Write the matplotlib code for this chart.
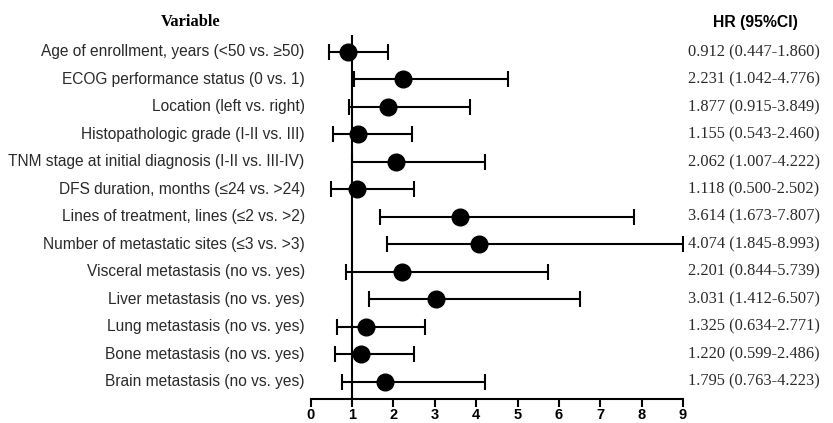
import matplotlib
matplotlib.use("Agg")
from matplotlib import pyplot as plt
import numpy as np

# Variables del modelo multivariado
variables = [
    "Age of enrollment, years (<50 vs. \u226550)",
    "ECOG performance status (0 vs. 1)",
    "Location (left vs. right)",
    "Histopathologic grade (I-II vs. III)",
    "TNM stage at initial diagnosis (I-II vs. III-IV)",
    "DFS duration, months (\u226424 vs. >24)",
    "Lines of treatment, lines (\u22642 vs. >2)",
    "Number of metastatic sites (\u22643 vs. >3)",
    "Visceral metastasis (no vs. yes)",
    "Liver metastasis (no vs. yes)",
    "Lung metastasis (no vs. yes)",
    "Bone metastasis (no vs. yes)",
    "Brain metastasis (no vs. yes)",
]
hr = [0.912, 2.231, 1.877, 1.155, 2.062, 1.118, 3.614, 4.074, 2.201, 3.031, 1.325, 1.220, 1.795]
ci_low = [0.447, 1.042, 0.915, 0.543, 1.007, 0.500, 1.673, 1.845, 0.844, 1.412, 0.634, 0.599, 0.763]
ci_high = [1.860, 4.776, 3.849, 2.460, 4.222, 2.502, 7.807, 8.993, 5.739, 6.507, 2.771, 2.486, 4.223]
x_ticks = [0, 1, 2, 3, 4, 5, 6, 7, 8, 9]

hr = np.array(hr)
err = np.vstack([hr - np.array(ci_low), np.array(ci_high) - hr])
y = np.arange(len(variables))

fig = plt.figure(figsize=(8.33, 4.23), dpi=100)
ax = fig.add_axes([0.373, 0.056, 0.447, 0.862])

ax.axvline(1, color="black", lw=1.5, zorder=1)
ax.errorbar(hr, y, xerr=err, fmt="o", color="black", ms=12,
            elinewidth=1.5, capsize=5.5, capthick=1.5, zorder=3)

ax.set_xlim(0, 9)
ax.set_ylim(len(variables) - 0.36, -0.63)
ax.set_xticks(x_ticks)
ax.set_xticklabels([str(t) for t in x_ticks], fontfamily="Liberation Sans",
                   fontweight="bold", fontsize=10.5)
ax.tick_params(axis="x", direction="out", length=6, width=1.5, pad=0.5)
ax.set_yticks([])
for s in ["left", "right", "top"]:
    ax.spines[s].set_visible(False)
ax.spines["bottom"].set_linewidth(1.5)

# etiquetas de las variables a la izquierda
for i, lab in enumerate(variables):
    ax.annotate(lab, xy=(0, i), xycoords=("axes fraction", "data"),
                xytext=(-6, 0), textcoords="offset pixels", ha="right", va="center",
                fontfamily="Liberation Sans", fontsize=11.2, color="#2a2a2a")

# columna de HR (IC 95%)
for i in range(len(variables)):
    txt = f"{hr[i]:.3f} ({ci_low[i]:.3f}-{ci_high[i]:.3f})"
    ax.annotate(txt, xy=(1, i), xycoords=("axes fraction", "data"),
                xytext=(5, 0), textcoords="offset pixels", ha="left", va="center",
                fontfamily="Liberation Serif", fontsize=11.8, color="#2a2a2a")

fig.text(191 / 833, 1 - 22 / 423, "Variable", ha="center", va="center",
         fontfamily="Liberation Serif", fontweight="bold", fontsize=11.8)
fig.text(755 / 833, 1 - 22 / 423, "HR (95%CI)", ha="center", va="center",
         fontfamily="Liberation Sans", fontweight="bold", fontsize=11.3)

fig.savefig("out.png", dpi=100)
